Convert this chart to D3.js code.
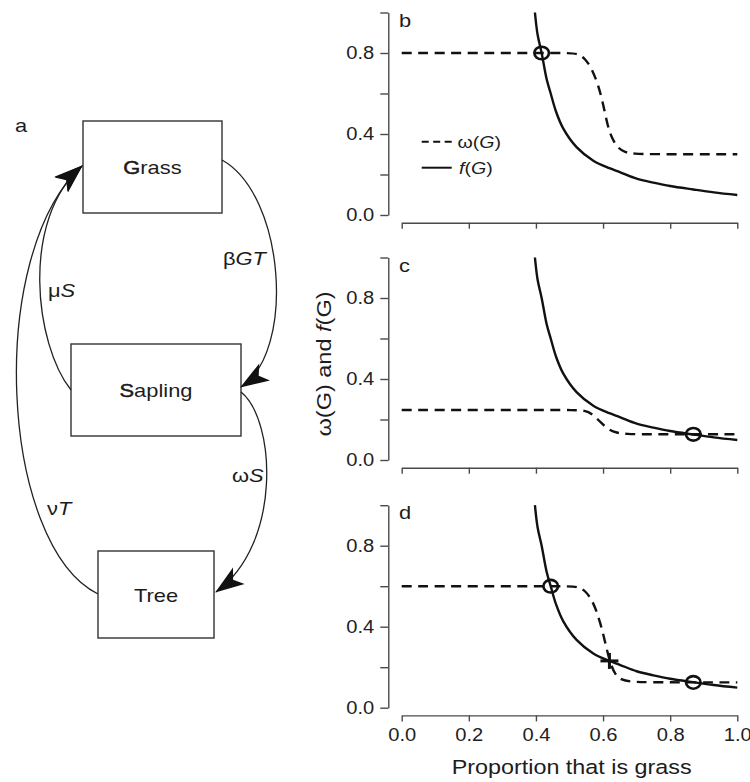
<!DOCTYPE html>
<html lang="en">
<head>
<meta charset="UTF-8">
<title>Grass, sapling and tree dynamics</title>
<script src="https://d3js.org/d3.v7.min.js"></script>
<style>
  body { margin: 0; background: #fff; }
  text { font-family: "Liberation Sans", Arial, sans-serif; fill: #1c1c1c; }
  .axis path, .axis line { stroke: #4a4a4a; stroke-width: 1.4; }
  .axis text { font-size: 17.5px; fill: #222; }
  .box { fill: none; stroke: #333; stroke-width: 1.4; }
  .flow { fill: none; stroke: #222; stroke-width: 1.3; }
</style>
</head>
<body>
<svg id="fig" width="750" height="782"></svg>
<script>
// ---- data ----
const compartments = ["Grass", "Sapling", "Tree"];
const flowRates = ["βGT", "μS", "ωS", "νT"];

const propTicks = [0, 0.2, 0.4, 0.6, 0.8, 1.0];
const propTickLabels = ["0.0", "0.2", "0.4", "0.6", "0.8", "1.0"];
const valueTicks = [0, 0.2, 0.4, 0.6, 0.8, 1.0];
const valueTickLabels = ["0.0", "", "0.4", "", "0.8", ""];

// f(G), same in every panel
const fGrass = [0.397, 0.405, 0.417, 0.432, 0.444, 0.46, 0.482, 0.521, 0.571, 0.619, 0.65, 0.70, 0.75, 0.80, 0.869, 0.93, 1.0];
const fValue = [1.00, 0.89, 0.80, 0.67, 0.60, 0.51, 0.425, 0.335, 0.268, 0.231, 0.212, 0.180, 0.160, 0.143, 0.126, 0.112, 0.099];

// omega(G) per panel
const omegaGrassB = [0, 0.40, 0.50, 0.525, 0.546, 0.566, 0.586, 0.601, 0.613, 0.626, 0.645, 0.665, 0.69, 0.75, 1.0];
const omegaValueB = [0.80, 0.80, 0.80, 0.796, 0.774, 0.724, 0.642, 0.543, 0.444, 0.379, 0.329, 0.31, 0.302, 0.30, 0.30];
const omegaGrassC = [0, 0.40, 0.52, 0.545, 0.566, 0.591, 0.616, 0.64, 0.67, 0.72, 1.0];
const omegaValueC = [0.247, 0.247, 0.247, 0.244, 0.231, 0.189, 0.150, 0.134, 0.128, 0.127, 0.127];
const omegaGrassD = [0, 0.40, 0.50, 0.525, 0.546, 0.571, 0.591, 0.606, 0.619, 0.636, 0.655, 0.68, 0.75, 1.0];
const omegaValueD = [0.60, 0.60, 0.60, 0.596, 0.581, 0.523, 0.425, 0.326, 0.231, 0.161, 0.137, 0.128, 0.125, 0.125];

// equilibria [G, value]
const stableB = [[0.417, 0.80]];
const stableC = [[0.869, 0.127]];
const stableD = [[0.444, 0.60], [0.869, 0.125]];
const unstableD = [[0.619, 0.231]];

// ---- setup ----
const svg = d3.select("#fig");
const STRETCH = 1.15; // figure is a bit wider than tall

function stretch(sel) {
  sel.each(function () {
    const w = this.getComputedTextLength();
    if (w > 0) d3.select(this).attr("textLength", w * STRETCH).attr("lengthAdjust", "spacingAndGlyphs");
  });
}

// arrow head
svg.append("defs").append("marker")
  .attr("id", "head")
  .attr("markerUnits", "userSpaceOnUse")
  .attr("viewBox", "-32 -14 36 28")
  .attr("markerWidth", 36).attr("markerHeight", 28)
  .attr("refX", 0).attr("refY", 0)
  .attr("orient", "auto")
  .append("path")
  .attr("d", "M1,0 L-28,-10 L-21,0 L-28,10 Z")
  .attr("fill", "#111");

// ---- panel a: compartment diagram ----
const boxes = {
  Grass:   { x: 83, y: 121, w: 139, h: 92, ty: 173.5 },
  Sapling: { x: 71, y: 344, w: 170, h: 92, ty: 396.5 },
  Tree:    { x: 98, y: 551, w: 116, h: 87, ty: 601.5 }
};

const diag = svg.append("g");

compartments.forEach(name => {
  const b = boxes[name];
  diag.append("rect").attr("class", "box")
    .attr("x", b.x).attr("y", b.y).attr("width", b.w).attr("height", b.h);
  const t = diag.append("text")
    .attr("x", b.x + b.w / 2).attr("y", b.ty)
    .attr("text-anchor", "middle").attr("font-size", 19);
  t.append("tspan").attr("stroke", name === "Tree" ? null : "#1c1c1c")
    .attr("stroke-width", 0.5).text(name[0]);
  t.append("tspan").text(name.slice(1));
  stretch(t);
});

const flowPaths = [
  "M222,160 C285,195 296,352 241,387",
  "M71,390 C35,345 20,220 82,166",
  "M241,392 C276,420 282,545 216,592",
  "M98,594 C0,545 -15,255 82,166"
];
const flowLabelPos = [[223, 265], [48, 297], [232, 482], [47, 515]];

flowPaths.forEach((d, i) => {
  diag.append("path").attr("class", "flow").attr("d", d).attr("marker-end", "url(#head)");
  const t = diag.append("text")
    .attr("x", flowLabelPos[i][0]).attr("y", flowLabelPos[i][1])
    .attr("font-size", 19);
  t.append("tspan").text(flowRates[i][0]);
  t.append("tspan").attr("font-style", "italic").text(flowRates[i].slice(1));
  stretch(t);
});

stretch(diag.append("text").attr("x", 15).attr("y", 132).attr("font-size", 19).text("a"));

// ---- panels b, c, d ----
const x = d3.scaleLinear().domain([0, 1]).range([401.7, 737.3]);

const panels = [
  { id: "b", top: 12.5, bottom: 215, og: omegaGrassB, ov: omegaValueB, stable: stableB, unstable: [] },
  { id: "c", top: 257.5, bottom: 460, og: omegaGrassC, ov: omegaValueC, stable: stableC, unstable: [] },
  { id: "d", top: 505.2, bottom: 707.7, og: omegaGrassD, ov: omegaValueD, stable: stableD, unstable: unstableD }
];

const fPts = d3.zip(fGrass, fValue);

panels.forEach(p => {
  const y = d3.scaleLinear().domain([0, 1]).range([p.bottom, p.top]);
  const g = svg.append("g");

  const ya = g.append("g").attr("class", "axis")
    .attr("transform", "translate(388.3,0)")
    .call(d3.axisLeft(y).tickValues(valueTicks).tickSize(8).tickSizeOuter(0).tickPadding(6)
      .tickFormat((d, i) => valueTickLabels[i]));
  ya.attr("font-family", null).attr("font-size", null);
  stretch(ya.selectAll("text"));

  const xa = g.append("g").attr("class", "axis")
    .attr("transform", `translate(0,${p.bottom + 7.7})`)
    .call(d3.axisBottom(x).tickValues(propTicks).tickSize(6).tickSizeOuter(0).tickPadding(7)
      .tickFormat((d, i) => p.id === "d" ? propTickLabels[i] : ""));
  xa.attr("font-family", null).attr("font-size", null);
  stretch(xa.selectAll("text"));

  const omegaLine = d3.line().x(d => x(d[0])).y(d => y(d[1])).curve(d3.curveBasis);
  const fLine = d3.line().x(d => x(d[0])).y(d => y(d[1])).curve(d3.curveCatmullRom.alpha(0.5));

  g.append("path")
    .datum(d3.zip(p.og, p.ov))
    .attr("d", omegaLine)
    .attr("fill", "none").attr("stroke", "#111").attr("stroke-width", 2.4)
    .attr("stroke-dasharray", "10,6.5");

  g.append("path")
    .datum(fPts)
    .attr("d", fLine)
    .attr("fill", "none").attr("stroke", "#111").attr("stroke-width", 2.4);

  g.selectAll(".stable").data(p.stable).enter().append("ellipse")
    .attr("cx", d => x(d[0])).attr("cy", d => y(d[1]))
    .attr("rx", 7.3).attr("ry", 6.3)
    .attr("fill", "none").attr("stroke", "#111").attr("stroke-width", 2.6);

  p.unstable.forEach(d => {
    const cx = x(d[0]), cy = y(d[1]);
    g.append("line").attr("x1", cx - 9).attr("x2", cx + 9).attr("y1", cy).attr("y2", cy)
      .attr("stroke", "#111").attr("stroke-width", 3);
    g.append("line").attr("x1", cx).attr("x2", cx).attr("y1", cy - 8).attr("y2", cy + 8)
      .attr("stroke", "#111").attr("stroke-width", 3);
  });

  stretch(g.append("text").attr("x", 399).attr("y", p.top + 14).attr("font-size", 19).text(p.id));
});

// legend in panel b
const leg = svg.append("g");
leg.append("line").attr("x1", 421.7).attr("x2", 451.7).attr("y1", 141.7).attr("y2", 141.7)
  .attr("stroke", "#111").attr("stroke-width", 2).attr("stroke-dasharray", "7,4.5");
leg.append("line").attr("x1", 421.7).attr("x2", 451.7).attr("y1", 167.7).attr("y2", 167.7)
  .attr("stroke", "#111").attr("stroke-width", 2);
const l1 = leg.append("text").attr("x", 457.5).attr("y", 147.5).attr("font-size", 17);
l1.append("tspan").text("ω(");
l1.append("tspan").attr("font-style", "italic").text("G");
l1.append("tspan").text(")");
stretch(l1);
const l2 = leg.append("text").attr("x", 459).attr("y", 173.5).attr("font-size", 17);
l2.append("tspan").attr("font-style", "italic").text("f");
l2.append("tspan").text("(");
l2.append("tspan").attr("font-style", "italic").text("G");
l2.append("tspan").text(")");
stretch(l2);

// axis titles
svg.append("text")
  .attr("x", 571.7).attr("y", 774)
  .attr("text-anchor", "middle").attr("font-size", 20.5)
  .attr("textLength", 240).attr("lengthAdjust", "spacingAndGlyphs")
  .text("Proportion that is grass");

const yt = svg.append("text")
  .attr("transform", "translate(331,364) rotate(-90)")
  .attr("text-anchor", "middle").attr("font-size", 21)
  .attr("textLength", 145).attr("lengthAdjust", "spacingAndGlyphs");
yt.append("tspan").text("ω(G) and ");
yt.append("tspan").attr("font-style", "italic").text("f");
yt.append("tspan").text("(G)");
</script>
</body>
</html>
